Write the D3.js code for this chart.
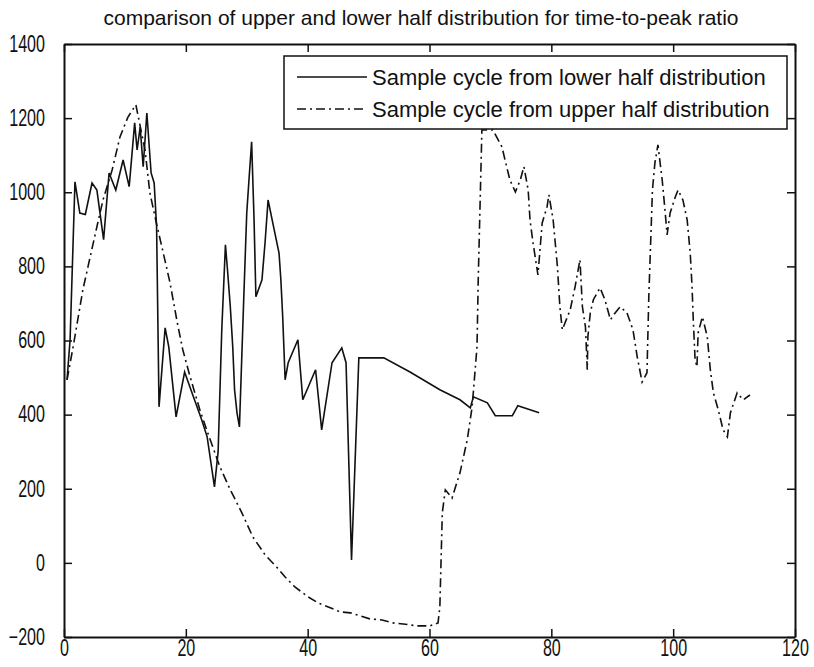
<!DOCTYPE html>
<html>
<head>
<meta charset="utf-8">
<script src="https://cdn.jsdelivr.net/npm/d3@7"></script>
<style>
  body{margin:0;background:#fff;}
  text{font-family:"Liberation Sans",Arial,sans-serif;fill:#111;}
</style>
</head>
<body>
<svg id="drawing_region"></svg>
<script>
// sample cycle from lower half distribution (solid)
const lowerX = [0.5,1,1.8,2.6,3.5,4.6,5.4,6.5,7.4,8.5,9.7,10.7,11.6,12,12.5,13,13.6,14.3,14.8,15.2,
  15.6,16.6,17.2,18.4,19.8,21.2,22.6,23.5,24.7,25.3,25.9,26.5,26.8,27.3,27.7,28,28.4,28.8,29.5,30,
  30.4,30.8,31.2,31.5,32.5,33,33.5,34.5,35.3,35.6,35.9,36.3,36.8,38.4,39.2,41.3,42.3,44,45.6,46.3,
  47.2,48.4,52.5,56.8,61.7,65,66.7,67.2,69.5,70.8,73.6,74.5,78]
const lowerY = [494,602,1028,944,940,1025,1006,872,1052,1006,1087,1015,1187,1114,1176,1069,1214,1052,1025,907,
  421,634,583,394,515,450,386,340,205,300,629,858,799,691,583,467,405,367,710,944,
  1042,1136,925,718,764,863,979,899,836,764,664,494,540,602,440,521,359,540,580,540,
  8,553,553,515,467,440,418,448,432,397,397,424,405]

// sample cycle from upper half distribution (dash-dot)
const upperX = [0.5,1.5,3.1,4.3,5.4,6.4,7.9,9.2,10.5,11.8,12.2,13.3,14.1,15.3,16.3,17.4,18.6,19.5,20.7,22.3,
  24,25.6,27.3,29.2,31,33,35,36.3,37.9,40.1,41.7,43.7,45.3,47,48.6,50.2,52.2,54,55.7,58,
  60.1,61.4,61.7,62.1,62.6,63.7,65,66.2,67,67.8,68,68.6,70.4,71.9,72.4,73.2,74.1,74.9,75.5,76.2,
  76.5,77,77.8,78.5,79.3,79.6,80.3,81,81.4,81.8,83.1,83.9,84.7,85.1,85.6,85.9,86,86.4,86.9,88,
  88.8,89.7,90.5,91.3,92.4,93.4,94.1,94.9,95.7,96,96.6,97,97.5,98.2,98.7,99,99.5,100.3,100.8,101.6,
  102.3,102.8,103.1,103.3,103.6,103.9,104.1,104.8,105.6,106.1,106.6,107.4,108.2,108.9,109.4,110.5,111.5,112.6]
const upperY = [494,583,737,826,907,979,1060,1150,1203,1236,1203,1114,998,907,836,756,648,575,502,413,
  332,259,197,135,70,22,-13,-38,-65,-92,-108,-121,-132,-135,-143,-151,-154,-162,-165,-170,
  -170,-162,-119,135,197,175,243,332,421,583,764,1168,1168,1122,1087,1033,1001,1033,1069,1006,
  925,863,777,917,961,993,925,799,691,629,683,745,818,691,637,521,610,675,710,742,
  710,656,675,691,675,629,556,488,513,718,1006,1079,1128,1033,944,885,944,985,1006,979,
  925,836,745,656,548,529,621,664,610,521,459,413,359,340,405,459,440,453]

const xTicks = [0,20,40,60,80,100,120]
const yTicks = [-200,0,200,400,600,800,1000,1200,1400]
const titleText = "comparison of upper and lower half distribution for time-to-peak ratio"
const legendLabels = ["Sample cycle from lower half distribution","Sample cycle from upper half distribution"]

const config = {
  width:814,
  height:667,
  margin:{top:44,right:19,bottom:30,left:64}
}
const inner_width = config.width-config.margin.left-config.margin.right
const inner_height = config.height-config.margin.top-config.margin.bottom

const svg = d3.select("#drawing_region")
  .attr("width",config.width)
  .attr("height",config.height)

svg.append("text")
  .attr("x",421)
  .attr("y",25)
  .attr("text-anchor","middle")
  .attr("font-size",21)
  .text(titleText)

const chart = svg.append("g")
  .attr("transform",`translate(${config.margin.left},${config.margin.top})`)

const xscale = d3.scaleLinear().domain([0,120]).range([0,inner_width])
const yscale = d3.scaleLinear().domain([-200,1400]).range([inner_height,0])

const tickScale = 0.7
const fmt = d3.format("d")
// axes with inward ticks (box on all four sides)
const xaxis_group = chart.append("g")
  .attr("transform",`translate(0,${inner_height})`)
  .call(d3.axisBottom(xscale).tickValues(xTicks).tickFormat(fmt).tickSizeInner(-8).tickSizeOuter(0).tickPadding(3))
xaxis_group.selectAll("text")
  .attr("font-size",23)
  .attr("transform",`scale(${tickScale},1)`)

const yaxis_group = chart.append("g")
  .call(d3.axisLeft(yscale).tickValues(yTicks).tickFormat(fmt).tickSizeInner(-8).tickSizeOuter(0).tickPadding(18))
yaxis_group.selectAll("text")
  .attr("font-size",23)
  .attr("x",-19/tickScale)
  .attr("transform",`scale(${tickScale},1)`)

chart.append("g")
  .call(d3.axisTop(xscale).tickValues(xTicks).tickSizeInner(-8).tickSizeOuter(0).tickFormat(""))
chart.append("g")
  .attr("transform",`translate(${inner_width},0)`)
  .call(d3.axisRight(yscale).tickValues(yTicks).tickSizeInner(-8).tickSizeOuter(0).tickFormat(""))

chart.selectAll(".domain").attr("stroke","#111").attr("stroke-width",2)
chart.selectAll(".tick line").attr("stroke","#111").attr("stroke-width",1.5)

const line = d3.line()
  .x(d=>xscale(d[0]))
  .y(d=>yscale(d[1]))

chart.append("path")
  .datum(lowerX.map((x,i)=>[x,lowerY[i]]))
  .attr("fill","none")
  .attr("stroke","#111")
  .attr("stroke-width",1.6)
  .attr("d",line)

chart.append("path")
  .datum(upperX.map((x,i)=>[x,upperY[i]]))
  .attr("fill","none")
  .attr("stroke","#111")
  .attr("stroke-width",1.6)
  .attr("stroke-dasharray","9,4,2,4")
  .attr("d",line)

// legend
const legend = svg.append("g")
legend.append("rect")
  .attr("x",284)
  .attr("y",56)
  .attr("width",503)
  .attr("height",73)
  .attr("fill","#fff")
  .attr("stroke","#111")
  .attr("stroke-width",1.5)

const dashes = [null,"9,4,2,4"]
legendLabels.forEach((label,i)=>{
  const ly = 77+i*32
  legend.append("line")
    .attr("x1",297).attr("x2",367)
    .attr("y1",ly).attr("y2",ly)
    .attr("stroke","#111")
    .attr("stroke-width",1.6)
    .attr("stroke-dasharray",dashes[i])
  legend.append("text")
    .attr("x",372)
    .attr("y",ly)
    .attr("dy","0.35em")
    .attr("font-size",22)
    .text(label)
})
</script>
</body>
</html>
